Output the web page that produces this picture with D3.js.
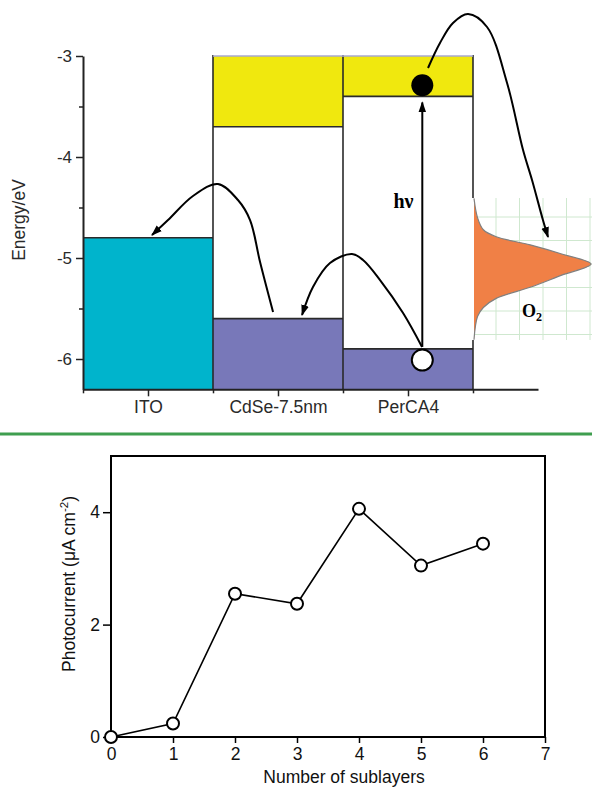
<!DOCTYPE html>
<html>
<head>
<meta charset="utf-8">
<script src="https://cdn.jsdelivr.net/npm/d3@7"></script>
<style>
  html, body { margin: 0; padding: 0; background: #fff; }
  svg { display: block; }
</style>
</head>
<body>
<svg id="fig" width="592" height="796"></svg>
<script>
// ---------- energy-level diagram data ----------
const materials = ["ITO", "CdSe-7.5nm", "PerCA4"];
const cbEdge = [null, -3.7, -3.4];        // conduction band / LUMO (eV)
const vbEdge = [-4.8, -5.6, -5.9];        // work function / valence band / HOMO (eV)
const energyTicks = [-3, -4, -5, -6];
const energyMinor = [-3.5, -4.5, -5.5];
const energyDomain = [-3, -6.3];

// carriers in PerCA4 (position across the layer, energy)
const electron = { u: 2.61, E: -3.29 };
const hole = { u: 2.61, E: -6.01 };

// charge-transfer arrows: [position across layers, energy]
const holeToITO = [[1.462, -5.535], [1.362, -5.04], [1.285, -4.624], [1.192, -4.426], [1.038, -4.267],
                   [0.846, -4.386], [0.654, -4.624], [0.531, -4.772]];
const holeToCdSe = [[2.608, -5.881], [2.462, -5.545], [2.285, -5.218], [2.154, -5.02], [2.069, -4.96],
                    [1.9, -5.05], [1.769, -5.287], [1.685, -5.564]];
const electronToO2 = [[2.654, -3.119], [2.746, -2.871], [2.846, -2.673], [2.962, -2.584], [3.108, -2.713],
                      [3.262, -3.267], [3.385, -3.931], [3.454, -4.228], [3.538, -4.624], [3.577, -4.792]];
const excitation = [[2.61, -5.88], [2.61, -3.46]];

// O2 acceptor density of states: [energy, relative density]
const o2Profile = [[-4.41, 0], [-4.6, 0.03], [-4.72, 0.08], [-4.79, 0.19], [-4.87, 0.48], [-4.96, 0.75],
                   [-5.06, 1.0], [-5.17, 0.75], [-5.29, 0.48], [-5.4, 0.19], [-5.49, 0.08], [-5.58, 0.03],
                   [-5.81, 0]];

// ---------- photocurrent data ----------
const sublayers = [0, 1, 2, 3, 4, 5, 6];
const photocurrent = [0, 0.24, 2.55, 2.37, 4.06, 3.05, 3.44];
const xTicks = [0, 1, 2, 3, 4, 5, 6, 7];
const yTicks = [0, 2, 4];

const svg = d3.select("#fig");
const sans = "'Liberation Sans', Arial, Helvetica, sans-serif";
const serif = "'Liberation Serif', 'Times New Roman', serif";

const defs = svg.append("defs");
defs.append("marker")
  .attr("id", "head")
  .attr("viewBox", "0 -4 10 8")
  .attr("refX", 9).attr("refY", 0)
  .attr("markerWidth", 11).attr("markerHeight", 9)
  .attr("markerUnits", "userSpaceOnUse")
  .attr("orient", "auto")
  .append("path").attr("d", "M0,-3.5L10,0L0,3.5Z").attr("fill", "#000");

// ================= energy diagram =================
const xE = d3.scaleLinear().domain([0, 3.5]).range([83, 538]);
const yE = d3.scaleLinear().domain(energyDomain).range([56, 389.3]);
const eTop = energyDomain[0], eBottom = energyDomain[1];

const colYellow = "#f0e80e", colCyan = "#00b4cc", colPurple = "#7878b9";
const bands = svg.append("g");

materials.forEach((m, i) => {
  if (cbEdge[i] !== null) {
    bands.append("rect")
      .attr("x", xE(i)).attr("y", yE(eTop))
      .attr("width", xE(i + 1) - xE(i)).attr("height", yE(cbEdge[i]) - yE(eTop))
      .attr("fill", colYellow);
  }
  bands.append("rect")
    .attr("x", xE(i)).attr("y", yE(vbEdge[i]))
    .attr("width", xE(i + 1) - xE(i)).attr("height", yE(eBottom) - yE(vbEdge[i]))
    .attr("fill", i === 0 ? colCyan : colPurple);
});

const edges = svg.append("g").attr("stroke", "#2a2a2a").attr("stroke-width", 1.6);
materials.forEach((m, i) => {
  if (cbEdge[i] !== null) {
    edges.append("line")
      .attr("x1", xE(i)).attr("x2", xE(i + 1))
      .attr("y1", yE(cbEdge[i])).attr("y2", yE(cbEdge[i]));
    svg.append("line")
      .attr("x1", xE(i)).attr("x2", xE(i + 1))
      .attr("y1", yE(eTop)).attr("y2", yE(eTop))
      .attr("stroke", "#a8a8d0").attr("stroke-width", 1.5);
  }
  edges.append("line")
    .attr("x1", xE(i)).attr("x2", xE(i + 1))
    .attr("y1", yE(vbEdge[i])).attr("y2", yE(vbEdge[i]));
});
[1, 2, 3].forEach(u => {
  edges.append("line")
    .attr("x1", xE(u)).attr("x2", xE(u))
    .attr("y1", yE(eTop) - 1).attr("y2", yE(eBottom));
});

// O2 acceptor states on graph paper
const o2Top = -4.406, o2Bottom = -5.812;
const patchX0 = xE(3) - 1, patchX1 = 592;
const patch = svg.append("g");
patch.append("rect")
  .attr("x", patchX0).attr("y", yE(o2Top))
  .attr("width", patchX1 - patchX0).attr("height", yE(o2Bottom) - yE(o2Top))
  .attr("fill", "#fff");
const gridStep = 23.5;
d3.range(xE(3) + 23, patchX1 + 1, gridStep).forEach(gx => {
  patch.append("line").attr("x1", gx).attr("x2", gx)
    .attr("y1", yE(o2Top)).attr("y2", yE(o2Bottom))
    .attr("stroke", "#cfe8cf").attr("stroke-width", 1);
});
d3.range(yE(o2Top) + 19, yE(o2Bottom), gridStep).forEach(gy => {
  patch.append("line").attr("x1", xE(3) + 2).attr("x2", patchX1)
    .attr("y1", gy).attr("y2", gy)
    .attr("stroke", "#cfe8cf").attr("stroke-width", 1);
});
const o2Base = xE(3) + 1, o2Width = 117;
patch.append("path")
  .datum(o2Profile)
  .attr("d", d3.area()
    .y(d => yE(d[0]))
    .x0(o2Base)
    .x1(d => o2Base + o2Width * d[1])
    .curve(d3.curveCatmullRom.alpha(0.5)))
  .attr("fill", "#f08046");
patch.append("path")
  .datum(o2Profile)
  .attr("d", d3.line()
    .y(d => yE(d[0]))
    .x(d => o2Base + o2Width * d[1])
    .curve(d3.curveCatmullRom.alpha(0.5)))
  .attr("fill", "none").attr("stroke", "#808080").attr("stroke-width", 1.2);

// transfer arrows
const arrowLine = d3.line()
  .x(d => xE(d[0])).y(d => yE(d[1]))
  .curve(d3.curveCatmullRom.alpha(0.5));
[holeToITO, holeToCdSe, electronToO2, excitation].forEach(pts => {
  svg.append("path")
    .attr("d", arrowLine(pts))
    .attr("fill", "none").attr("stroke", "#000").attr("stroke-width", 2)
    .attr("marker-end", "url(#head)");
});

// carriers
svg.append("circle")
  .attr("cx", xE(electron.u)).attr("cy", yE(electron.E)).attr("r", 11)
  .attr("fill", "#000");
svg.append("circle")
  .attr("cx", xE(hole.u)).attr("cy", yE(hole.E)).attr("r", 10.5)
  .attr("fill", "#fff").attr("stroke", "#000").attr("stroke-width", 2);

// labels inside the diagram
svg.append("text")
  .attr("x", 403.5).attr("y", 208)
  .attr("text-anchor", "middle")
  .attr("font-family", serif).attr("font-weight", "bold").attr("font-size", 20)
  .text("h\u03bd");
const o2Label = svg.append("text")
  .attr("x", 522).attr("y", 317)
  .attr("font-family", serif).attr("font-weight", "bold").attr("font-size", 18);
o2Label.append("tspan").text("O");
o2Label.append("tspan").attr("font-size", 12).attr("dy", 4).text("2");

// axes of the energy diagram
const axisStyle = g => {
  g.selectAll(".domain").attr("stroke", "#222").attr("stroke-width", 2);
  g.selectAll(".tick line").attr("stroke", "#222").attr("stroke-width", 1.5);
  g.selectAll("text").attr("font-family", sans).attr("fill", "#2a2a2a");
};

svg.append("g")
  .attr("transform", `translate(${xE(0)},0)`)
  .call(d3.axisLeft(yE).tickValues(energyTicks).tickSize(7).tickPadding(4)
    .tickSizeOuter(0).tickFormat(d => String(d)))
  .call(axisStyle)
  .call(g => g.selectAll("text").attr("font-size", 17));
svg.append("g")
  .attr("transform", `translate(${xE(0)},0)`)
  .call(d3.axisLeft(yE).tickValues(energyMinor).tickSize(4).tickFormat(""))
  .call(axisStyle)
  .call(g => g.select(".domain").remove());

svg.append("g")
  .attr("transform", `translate(0,${yE(eBottom)})`)
  .call(d3.axisBottom(xE).tickValues([0, 1, 2, 3]).tickSize(4).tickSizeOuter(0).tickFormat(""))
  .call(axisStyle);
svg.append("g")
  .attr("transform", `translate(0,${yE(eBottom)})`)
  .call(d3.axisBottom(xE).tickValues(materials.map((m, i) => i + 0.5)).tickSize(7).tickPadding(4)
    .tickFormat(d => materials[Math.floor(d)]))
  .call(axisStyle)
  .call(g => g.select(".domain").remove())
  .call(g => g.selectAll("text").attr("font-size", 17.5));

svg.append("text")
  .attr("transform", "translate(25,220) rotate(-90)")
  .attr("text-anchor", "middle")
  .attr("font-family", sans).attr("font-size", 17.5).attr("fill", "#2a2a2a")
  .text("Energy/eV");

// separator between the two panels
svg.append("line")
  .attr("x1", 0).attr("x2", 592).attr("y1", 434).attr("y2", 434)
  .attr("stroke", "#3f9e4f").attr("stroke-width", 3);

// ================= photocurrent plot =================
const xB = d3.scaleLinear().domain([0, 7]).range([111, 545]);
const yB = d3.scaleLinear().domain([0, 5]).range([737, 456]);

svg.append("g")
  .attr("transform", `translate(0,${yB(0)})`)
  .call(d3.axisBottom(xB).tickValues(xTicks).tickSize(6).tickPadding(5).tickSizeOuter(0)
    .tickFormat(d3.format("d")))
  .call(g => g.select(".domain").remove())
  .call(g => g.selectAll(".tick line").attr("stroke", "#000").attr("stroke-width", 1.5))
  .call(g => g.selectAll("text").attr("font-family", sans).attr("font-size", 17.5).attr("fill", "#111"));

svg.append("g")
  .attr("transform", `translate(${xB(0)},0)`)
  .call(d3.axisLeft(yB).tickValues(yTicks).tickSize(8).tickPadding(3).tickSizeOuter(0)
    .tickFormat(d3.format("d")))
  .call(g => g.select(".domain").remove())
  .call(g => g.selectAll(".tick line").attr("stroke", "#000").attr("stroke-width", 1.5))
  .call(g => g.selectAll("text").attr("font-family", sans).attr("font-size", 17.5).attr("fill", "#111"));

svg.append("rect")
  .attr("x", xB(0)).attr("y", yB(5))
  .attr("width", xB(7) - xB(0)).attr("height", yB(0) - yB(5))
  .attr("fill", "none").attr("stroke", "#000").attr("stroke-width", 2);

const points = sublayers.map((s, i) => [s, photocurrent[i]]);
svg.append("path")
  .datum(points)
  .attr("d", d3.line().x(d => xB(d[0])).y(d => yB(d[1])))
  .attr("fill", "none").attr("stroke", "#000").attr("stroke-width", 1.6);
svg.append("g").selectAll("circle")
  .data(points).join("circle")
  .attr("cx", d => xB(d[0])).attr("cy", d => yB(d[1])).attr("r", 6)
  .attr("fill", "#fff").attr("stroke", "#000").attr("stroke-width", 2);

svg.append("text")
  .attr("x", 344).attr("y", 783)
  .attr("text-anchor", "middle")
  .attr("font-family", sans).attr("font-size", 17.5).attr("fill", "#111")
  .text("Number of sublayers");

const yTitle = svg.append("text")
  .attr("transform", "translate(75,584) rotate(-90)")
  .attr("text-anchor", "middle")
  .attr("font-family", sans).attr("font-size", 17.5).attr("fill", "#111");
yTitle.append("tspan").text("Photocurrent (\u03bcA cm");
yTitle.append("tspan").attr("font-size", 11.5).attr("dy", -7).text("-2");
yTitle.append("tspan").attr("dy", 7).text(")");
</script>
</body>
</html>
